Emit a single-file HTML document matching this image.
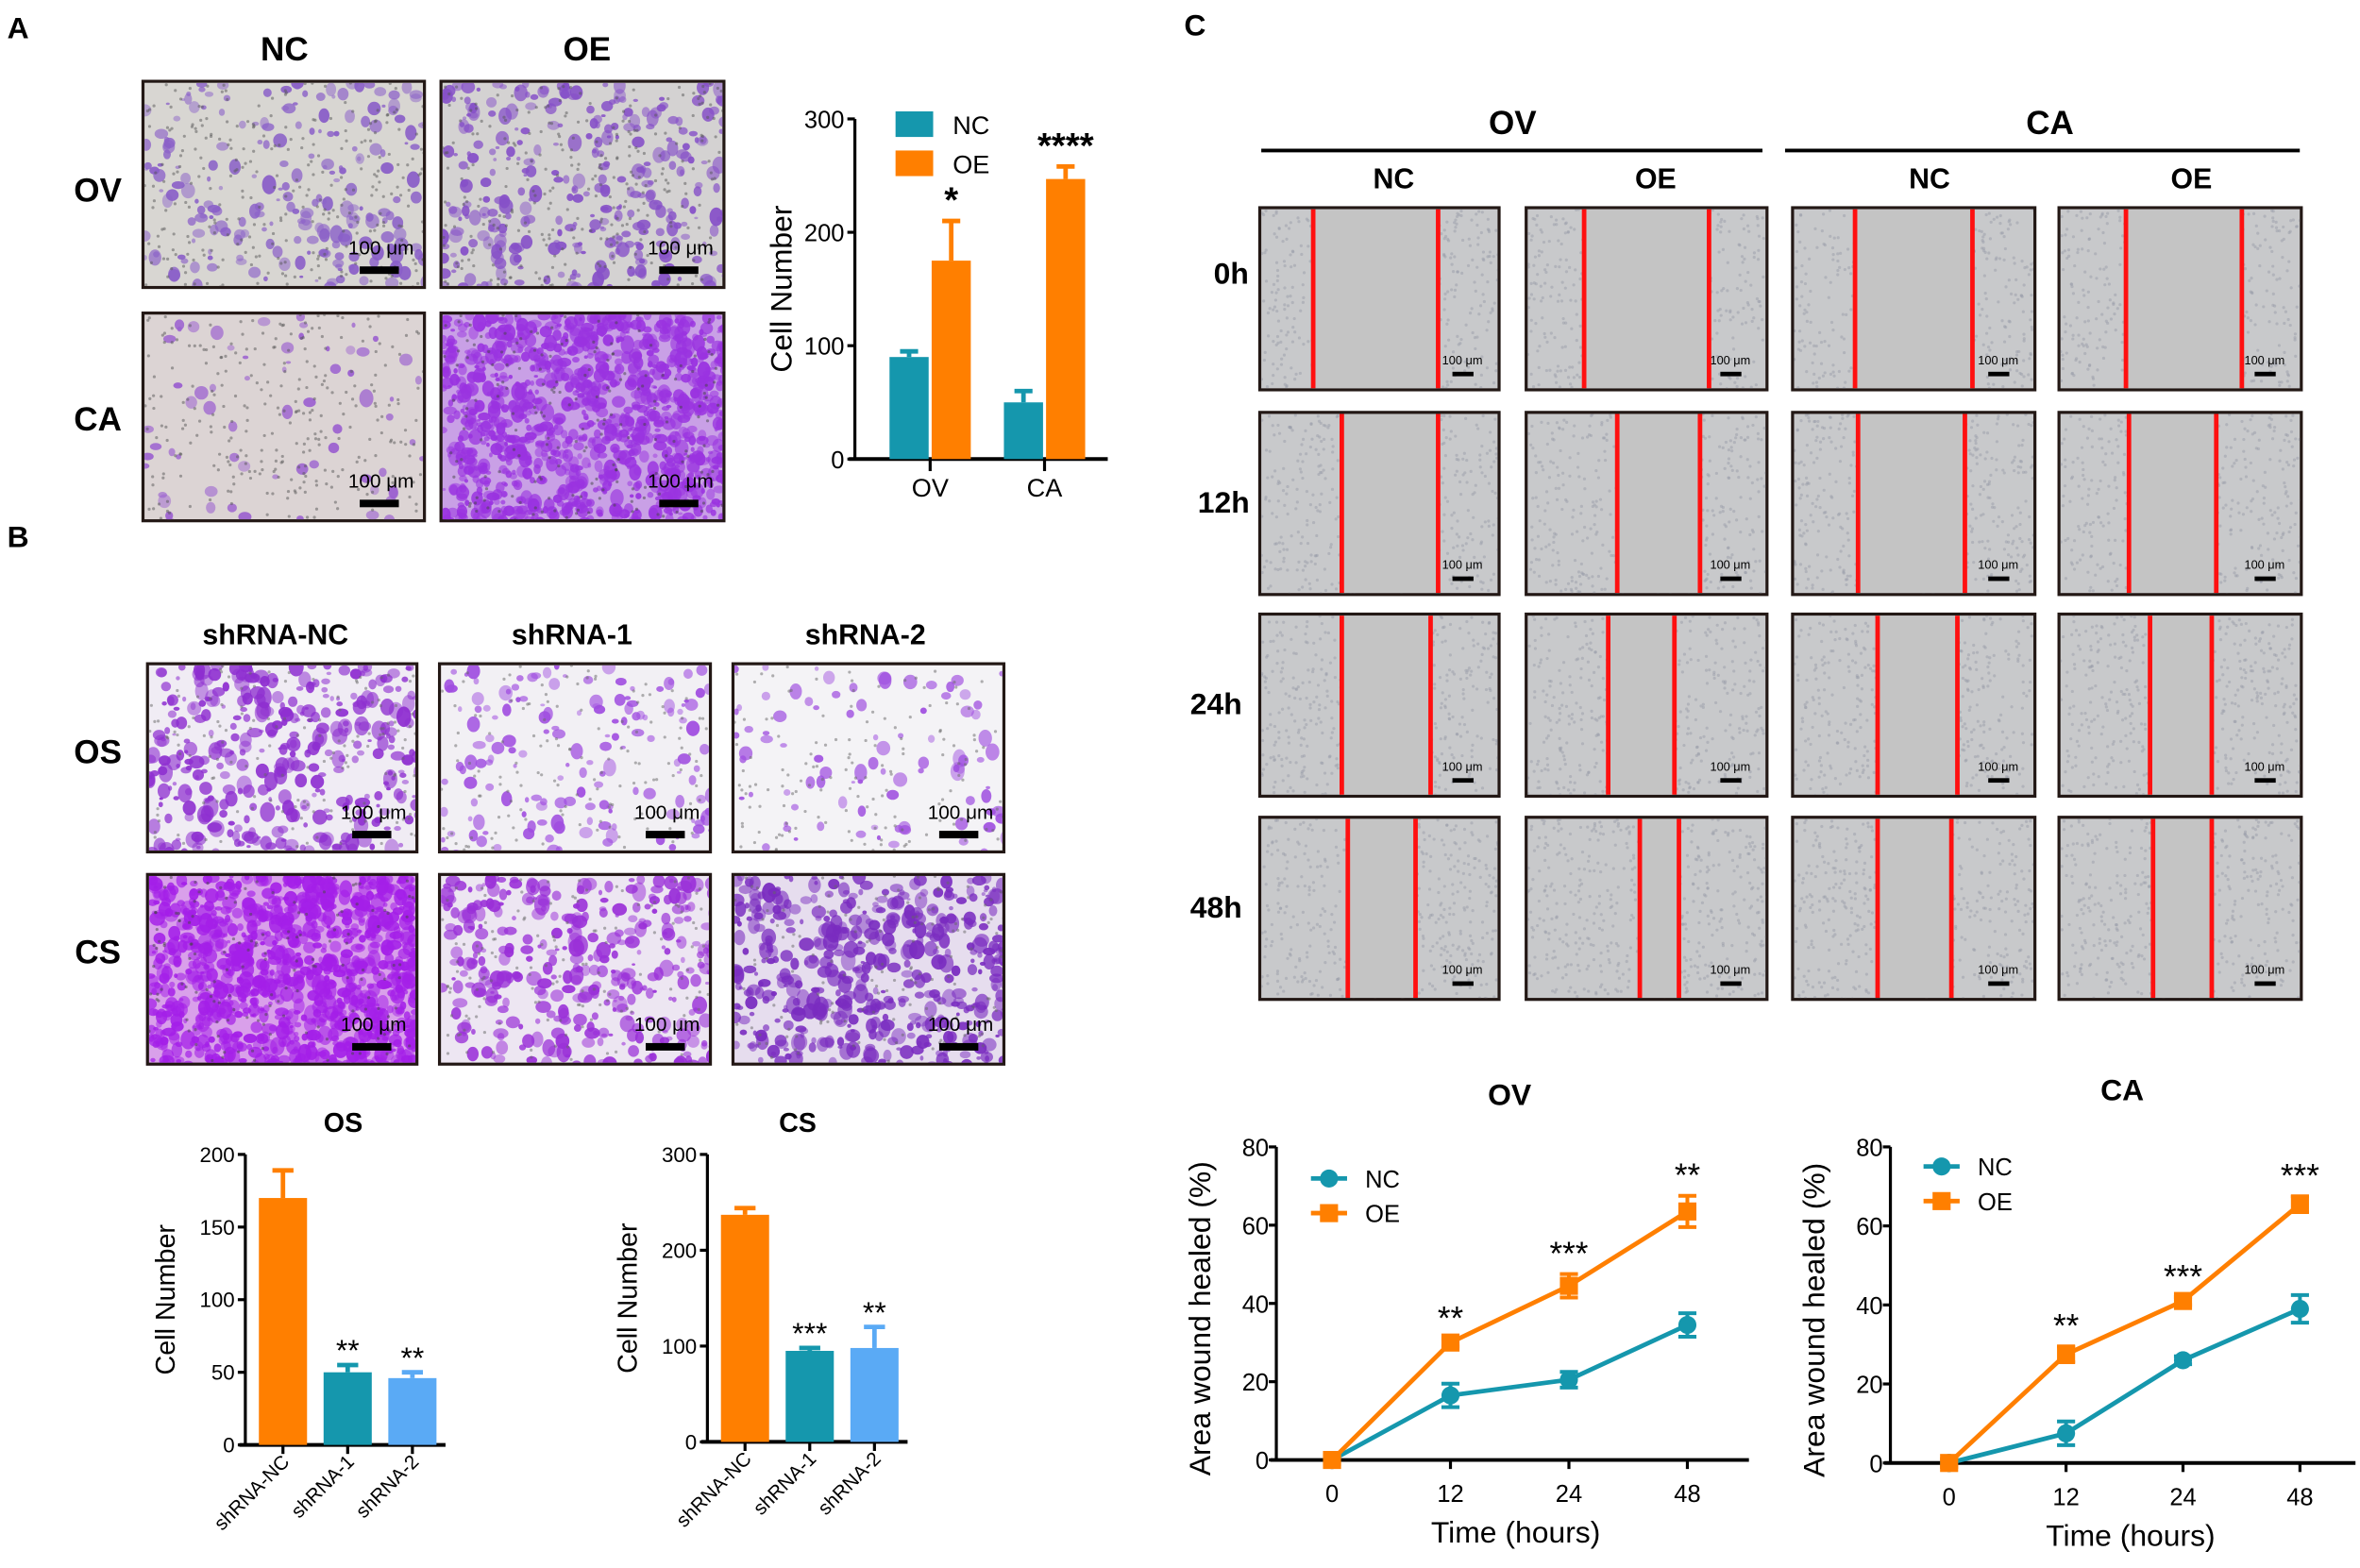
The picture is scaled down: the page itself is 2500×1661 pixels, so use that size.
<!DOCTYPE html>
<html><head><meta charset="utf-8">
<style>
html,body{margin:0;padding:0;background:#fff;overflow:hidden;width:2500px;height:1661px}
#root{position:absolute;left:0;top:0;width:1568px;height:1042px;transform:scale(1.59439);transform-origin:0 0;font-family:"Liberation Sans",Arial,sans-serif}
.lbl{position:absolute;font-weight:bold;color:#000;transform:translate(-50%,-50%);white-space:nowrap}
.img{position:absolute;border:2px solid #231815;box-sizing:border-box;overflow:hidden}
.sb{position:absolute;color:#000;white-space:nowrap}
svg{position:absolute;left:0;top:0}
</style></head><body>
<div id="root">
<div class="lbl" style="left:12px;top:20px;font-size:20px">A</div>
<div class="lbl" style="left:12px;top:358px;font-size:20px">B</div>
<div class="lbl" style="left:794px;top:18px;font-size:20px">C</div>
<div id="imgs"></div>
<svg id="charts" width="1568" height="1042"></svg>
</div>
<script>
// ---- Chart data ----
const aGroups=["OV","CA"];
const aNC=[90,50], aNCerr=[5,10];
const aOE=[175,247], aOEerr=[35,11];
const aStars=["*","****"];
const aTicks=[0,100,200,300];
const bCats=["shRNA-NC","shRNA-1","shRNA-2"];
const osVals=[170,50,46], osErr=[19,5,4], osStars=["","**","**"], osTicks=[0,50,100,150,200];
const csVals=[237,95,98], csErr=[7,3,22], csStars=["","***","**"], csTicks=[0,100,200,300];
const times=[0,12,24,48], timeLabels=["0","12","24","48"];
const ovNC=[0,16.5,20.5,34.5], ovNCerr=[0,3,2,3];
const ovOE=[0,30,44.5,63.5], ovOEerr=[1,1,3,4];
const ovStars=["","**","***","**"];
const caNC=[0,7.5,26,39], caNCerr=[0,3,1,3.5];
const caOE=[0,27.5,41,65.5], caOEerr=[1,2,1,2];
const caStars=["","**","***","***"];
const lineTicks=[0,20,40,60,80];

const NS="http://www.w3.org/2000/svg";
const svg=document.getElementById('charts');
function el(tag,attrs,parent){const e=document.createElementNS(NS,tag);for(const k in attrs)e.setAttribute(k,attrs[k]);(parent||svg).appendChild(e);return e;}
function txt(x,y,s,size,opts){const t=el('text',Object.assign({x:x,y:y,'font-size':size,'text-anchor':'middle','font-family':'Liberation Sans, Arial, sans-serif',fill:'#000'},opts||{}));t.textContent=s;return t;}
const TEAL="#1597ad", ORANGE="#ff7f00", LBLUE="#5aaaf5";

// ---- Panel A bar chart ----
(function(){
 const g=el('g',{});
 
 
 const ax=568,y0=305,yTop=79,max=300;
 const Y=v=>y0-(v/max)*(y0-yTop);
 const centers=[618,694];
 el('line',{x1:ax,y1:yTop,x2:ax,y2:y0,stroke:'#000','stroke-width':2},g);
 el('line',{x1:ax-4,y1:y0,x2:736,y2:y0,stroke:'#000','stroke-width':2.5},g);
 aTicks.forEach(t=>{el('line',{x1:ax-5,y1:Y(t),x2:ax,y2:Y(t),stroke:'#000','stroke-width':2},g);const l=txt(ax-7,Y(t)+6,String(t),16,{'text-anchor':'end'});g.appendChild(l);});
 aGroups.forEach((gname,i)=>{
  const c=centers[i];
  el('line',{x1:c,y1:y0,x2:c,y2:y0+8,stroke:'#000','stroke-width':2},g);
  const l=txt(c,y0+25,gname,17);g.appendChild(l);
  [[aNC,aNCerr,TEAL,-14],[aOE,aOEerr,ORANGE,14]].forEach(([v,e,col,off])=>{
   const bx=c+off;
   const b=el('rect',{x:bx-13,y:Y(v[i]),width:26,height:y0-Y(v[i]),fill:col},g);
   
   
   el('line',{x1:bx,y1:Y(v[i]),x2:bx,y2:Y(v[i]+e[i]),stroke:col,'stroke-width':3},g);
   el('line',{x1:bx-6,y1:Y(v[i]+e[i]),x2:bx+6,y2:Y(v[i]+e[i]),stroke:col,'stroke-width':3},g);
  });
  const s=txt(c+14,Y(aOE[i]+aOEerr[i])-6,aStars[i],24,{'font-weight':'bold'});g.appendChild(s);
 });
 const yt=txt(0,0,"Cell Number",20,{transform:'translate(526,192) rotate(-90)'});g.appendChild(yt);
 el('rect',{x:595,y:74,width:25,height:17,fill:TEAL},g);
 el('rect',{x:595,y:100,width:25,height:17,fill:ORANGE},g);
 g.appendChild(txt(633,89,"NC",17,{'text-anchor':'start'}));
 g.appendChild(txt(633,115,"OE",17,{'text-anchor':'start'}));
})();

// ---- Panel B bar charts ----
function bChart(name,ax,y0,yTop,max,vals,errs,stars,ticks,title,tx){
 const g=el('g',{});
 
 
 const Y=v=>y0-(v/max)*(y0-yTop);
 const cols=[ORANGE,TEAL,LBLUE];
 el('line',{x1:ax,y1:yTop,x2:ax,y2:y0,stroke:'#000','stroke-width':2},g);
 el('line',{x1:ax-4,y1:y0,x2:ax+133,y2:y0,stroke:'#000','stroke-width':2.5},g);
 ticks.forEach(t=>{el('line',{x1:ax-5,y1:Y(t),x2:ax,y2:Y(t),stroke:'#000','stroke-width':2},g);g.appendChild(txt(ax-7,Y(t)+5,String(t),14,{'text-anchor':'end'}));});
 bCats.forEach((c,i)=>{
  const cx=ax+25+i*43;
  const b=el('rect',{x:cx-16,y:Y(vals[i]),width:32,height:y0-Y(vals[i]),fill:cols[i]},g);
  
  
  el('line',{x1:cx,y1:Y(vals[i]),x2:cx,y2:Y(vals[i]+errs[i]),stroke:cols[i],'stroke-width':3},g);
  el('line',{x1:cx-7,y1:Y(vals[i]+errs[i]),x2:cx+7,y2:Y(vals[i]+errs[i]),stroke:cols[i],'stroke-width':3},g);
  el('line',{x1:cx,y1:y0,x2:cx,y2:y0+6,stroke:'#000','stroke-width':2},g);
  g.appendChild(txt(0,0,c,13,{'text-anchor':'end',transform:'translate('+(cx+5)+','+(y0+12)+') rotate(-45)'}));
  if(stars[i])g.appendChild(txt(cx,Y(vals[i]+errs[i])-3,stars[i],20,{}));
 });
 g.appendChild(txt(0,0,"Cell Number",18,{transform:'translate('+(ax-47)+','+((y0+yTop)/2)+') rotate(-90)'}));
 g.appendChild(txt(tx,752,title,18,{'font-weight':'bold'}));
}
bChart('os-bar-chart',163,960,767,200,osVals,osErr,osStars,osTicks,"OS",228);
bChart('cs-bar-chart',470,958,767,300,csVals,csErr,csStars,csTicks,"CS",530);

// ---- Panel C line charts ----
function lineChart(name,ax,y0,yTop,xt,axEnd,nc,ncE,oe,oeE,stars,title,titleX,titleY,legY,legX){
 const g=el('g',{});
 
 
 const Y=v=>y0-(v/80)*(y0-yTop);
 const X=t=>xt[0]+(times.indexOf(t))*(xt[1]-xt[0]);
 el('line',{x1:ax,y1:yTop,x2:ax,y2:y0,stroke:'#000','stroke-width':2},g);
 el('line',{x1:ax-4,y1:y0,x2:axEnd,y2:y0,stroke:'#000','stroke-width':2.5},g);
 lineTicks.forEach(t=>{el('line',{x1:ax-5,y1:Y(t),x2:ax,y2:Y(t),stroke:'#000','stroke-width':2},g);g.appendChild(txt(ax-5,Y(t)+6,String(t),16,{'text-anchor':'end'}));});
 times.forEach((t,i)=>{const x=X(t);el('line',{x1:x,y1:y0,x2:x,y2:y0+6,stroke:'#000','stroke-width':2},g);g.appendChild(txt(x,y0+28,timeLabels[i],16));});
 [[nc,ncE,TEAL,'circle'],[oe,oeE,ORANGE,'square']].forEach(([v,e,col,m])=>{
  const pts=times.map((t,i)=>X(t)+','+Y(v[i])).join(' ');
  const pl=el('polyline',{points:pts,fill:'none',stroke:col,'stroke-width':3},g);
  
  
  times.forEach((t,i)=>{
   const x=X(t),y=Y(v[i]);
   if(e[i]>0){el('line',{x1:x,y1:Y(v[i]-e[i]),x2:x,y2:Y(v[i]+e[i]),stroke:col,'stroke-width':2.5},g);
    el('line',{x1:x-6,y1:Y(v[i]+e[i]),x2:x+6,y2:Y(v[i]+e[i]),stroke:col,'stroke-width':2.5},g);
    el('line',{x1:x-6,y1:Y(v[i]-e[i]),x2:x+6,y2:Y(v[i]-e[i]),stroke:col,'stroke-width':2.5},g);}
   const mk=m==='circle'?el('circle',{cx:x,cy:y,r:6,fill:col},g):el('rect',{x:x-6,y:y-6,width:12,height:12,fill:col},g);
   
   
  });
 });
 times.forEach((t,i)=>{if(stars[i])g.appendChild(txt(X(t),Y(oe[i]+oeE[i])-6,stars[i],22,{}));});
 g.appendChild(txt(titleX,titleY,title,20,{'font-weight':'bold'}));
 g.appendChild(txt(0,0,"Area wound healed (%)",20,{transform:'translate('+(ax-44)+','+((y0+yTop)/2+10)+') rotate(-90)'}));
 g.appendChild(txt((xt[0]+(xt[0]+3*(xt[1]-xt[0])))/2+4,y0+55,"Time (hours)",20));
 el('line',{x1:legX-12,y1:legY,x2:legX+12,y2:legY,stroke:TEAL,'stroke-width':3},g);
 el('circle',{cx:legX,cy:legY,r:6,fill:TEAL},g);
 el('line',{x1:legX-12,y1:legY+23,x2:legX+12,y2:legY+23,stroke:ORANGE,'stroke-width':3},g);
 el('rect',{x:legX-6,y:legY+17,width:12,height:12,fill:ORANGE},g);
 g.appendChild(txt(legX+24,legY+6,"NC",16,{'text-anchor':'start'}));
 g.appendChild(txt(legX+24,legY+29,"OE",16,{'text-anchor':'start'}));
}
lineChart('ov-wound-chart',848,970,762,[885,963.7],1162,ovNC,ovNCerr,ovOE,ovOEerr,ovStars,"OV",1003,734,783,883);
lineChart('ca-wound-chart',1256,972,762,[1295,1372.7],1565,caNC,caNCerr,caOE,caOEerr,caStars,"CA",1410,731,775,1290);

// ---- Panel C headers ----
el('line',{x1:838,y1:100,x2:1171,y2:100,stroke:'#000','stroke-width':2.5});
el('line',{x1:1186,y1:100,x2:1528,y2:100,stroke:'#000','stroke-width':2.5});

// ---- Micrograph images (decorative) ----
const host=document.getElementById('imgs');
let seed=7;function rnd(){seed=(seed*16807)%2147483647;return seed/2147483647;}
function label(x,y,s,size,name){const d=document.createElement('div');d.className='lbl';d.style.left=x+'px';d.style.top=y+'px';d.style.fontSize=size+'px';d.textContent=s;
 
 
 host.appendChild(d);}
function micro(x,y,w,h,bg,blob,n,name,sbSize,rmax,dots,dotCol){
 const d=document.createElement('div');d.className='img';
 
 
 d.style.cssText+=`left:${x}px;top:${y}px;width:${w}px;height:${h}px;background:${bg}`;
 let s='';
 for(let i=0;i<n;i++){const r=1.2+rnd()*rmax;s+=`<ellipse cx="${(rnd()*w).toFixed(1)}" cy="${(rnd()*h).toFixed(1)}" rx="${r.toFixed(1)}" ry="${(r*(0.6+rnd()*0.8)).toFixed(1)}" fill="${blob}" opacity="${(0.45+rnd()*0.5).toFixed(2)}"/>`;}
 for(let i=0;i<dots;i++){s+=`<circle cx="${(rnd()*w).toFixed(1)}" cy="${(rnd()*h).toFixed(1)}" r="1" fill="${dotCol}" opacity="0.5"/>`;}
 d.innerHTML=`<svg width="${w}" height="${h}" style="position:absolute;left:0;top:0">${s}</svg>`+
 `<div class="sb" style="right:${sbSize>10?6:10}px;bottom:${sbSize>10?18:14}px;font-size:${sbSize}px">100 μm</div><div style="position:absolute;right:16px;bottom:8px;width:${sbSize>10?26:14}px;height:${sbSize>10?5:3}px;background:#000"></div>`;
 host.appendChild(d);return d;}
// Panel A
label(189,33,"NC",22,'col-title-nc');label(390,33,"OE",22,'col-title-oe');
label(65,127,"OV",22,'row-label-ov');label(65,279,"CA",22,'row-label-ca');
micro(94,53,189,139,'#d8d6d2','#8a5fc8',220,'img-ov-nc',13,3.5,300,'#555');
micro(292,53,190,139,'#d4d2d2','#8650c8',330,'img-ov-oe',13,3.5,300,'#555');
micro(94,207,189,140,'#dcd4d4','#9b60d0',70,'img-ca-nc',13,3.5,300,'#555');
micro(292,207,190,140,'#c9a0e6','#9a33e0',1100,'img-ca-oe',13,3.5,200,'#444');
// Panel B
label(183,423,"shRNA-NC",19,'col-title-shrna-nc');label(380,423,"shRNA-1",19,'col-title-shrna-1');label(575,423,"shRNA-2",19,'col-title-shrna-2');
label(65,500,"OS",22,'row-label-os');label(65,633,"CS",22,'row-label-cs');
micro(97,440,181,127,'#f0ecf4','#8e2fd0',380,'img-os-shnc',13,4,150,'#666');
micro(291,440,182,127,'#f2f0f4','#a04de0',160,'img-os-sh1',13,3.5,150,'#666');
micro(486,440,182,127,'#f4f3f6','#a050e0',90,'img-os-sh2',13,3.5,150,'#666');
micro(97,580,181,128,'#d9a0ea','#a41fe8',1000,'img-cs-shnc',13,4,150,'#444');
micro(291,580,182,128,'#ede6f2','#9a30d8',360,'img-cs-sh1',13,4,150,'#666');
micro(486,580,182,128,'#e6ddee','#7a2cc0',480,'img-cs-sh2',13,4,150,'#666');
// Panel C
label(1005,82,"OV",22,'group-title-ov');label(1362,82,"CA",22,'group-title-ca');
label(926,120,"NC",19,'sub-title-ov-nc');label(1100,120,"OE",19,'sub-title-ov-oe');label(1282,120,"NC",19,'sub-title-ca-nc');label(1456,120,"OE",19,'sub-title-ca-oe');
const rowY=[137,273,407,542], rowL=["0h","12h","24h","48h"], rowLx=[818,813,808,808];
const colX=[836,1013,1190,1367], colW=[161,162,163,163];
const reds=[[[870,953],[1050,1133],[1230,1308],[1410,1487]],[[889,953],[1072,1127],[1232,1303],[1412,1470]],[[889,948],[1066,1110],[1245,1298],[1426,1467]],[[893,938],[1087,1113],[1245,1294],[1428,1467]]];
rowY.forEach((y,r)=>{
 label(rowLx[r],y+(r==0?46:62),rowL[r],20,'row-label-'+rowL[r]);
 colX.forEach((x,c)=>{
  const d=micro(x,y,colW[c],123,'#c8c9cb','#b8bcc6',0,'wound-img-'+rowL[r]+'-'+c,8,1,500,'#9a9eaa');
  const [a,b]=reds[r][c];
  const gap=document.createElement('div');gap.style.cssText=`position:absolute;left:${a-x}px;top:0;width:${b-a}px;height:100%;background:#c4c4c4`;d.appendChild(gap);
  [a,b].forEach(rx=>{const l=document.createElement('div');l.style.cssText=`position:absolute;left:${rx-x-1.5}px;top:0;width:3px;height:100%;background:#ff1010`;d.appendChild(l);});
 });
});
</script>
</body></html>
